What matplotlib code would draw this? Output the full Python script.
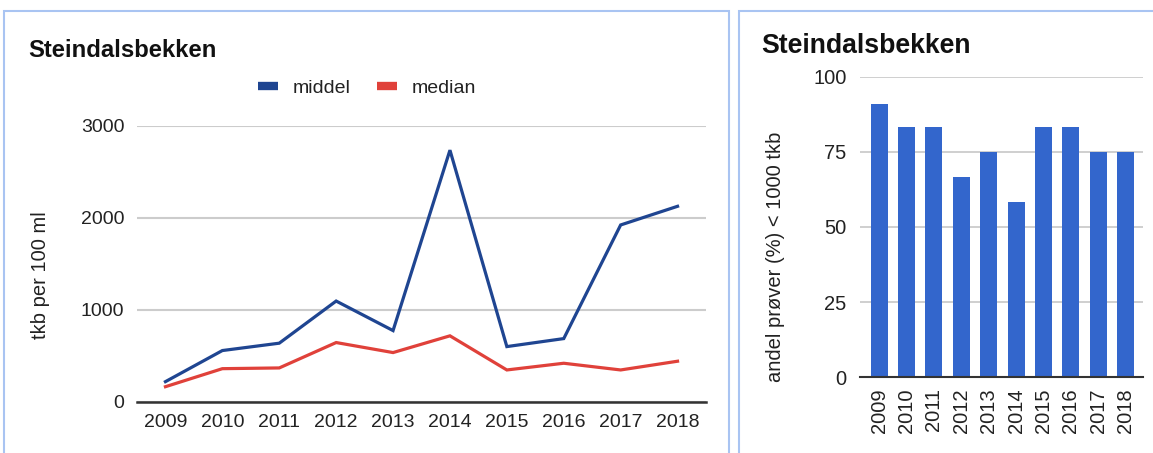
import matplotlib.pyplot as plt
from matplotlib.patches import Rectangle
from matplotlib.lines import Line2D

plt.rcParams['font.family'] = ['Liberation Sans', 'DejaVu Sans']

# data
years = [2009, 2010, 2011, 2012, 2013, 2014, 2015, 2016, 2017, 2018]
middel = [218, 556, 636, 1094, 773, 2734, 599, 686, 1921, 2124]
median = [163, 359, 367, 643, 534, 716, 345, 418, 345, 440]
andel = [90.9, 83.3, 83.3, 66.7, 75, 58.3, 83.3, 83.3, 75, 75]

W, H = 1153, 453
fig = plt.figure(figsize=(W / 100, H / 100), dpi=100)

BLUE_LINE = '#1f4591'
RED_LINE = '#e0413a'
BAR = '#3366cc'
GRID = '#cccccc'
BORDER = '#a9c4f2'
TXT = '#222222'

def fx(px):
    return px / W

def fy(py):
    return 1 - py / H

# panel borders
fig.patches.append(Rectangle((fx(4), fy(460)), fx(725), fy(11) - fy(460),
                             transform=fig.transFigure, fill=False,
                             edgecolor=BORDER, lw=1.5))
fig.patches.append(Rectangle((fx(739), fy(460)), fx(430), fy(11) - fy(460),
                             transform=fig.transFigure, fill=False,
                             edgecolor=BORDER, lw=1.5))

# ---------- left: line chart ----------
ax1 = fig.add_axes([fx(137), fy(401.7), fx(706) - fx(137), fy(125.7) - fy(401.7)])
ax1.plot(years, middel, color=BLUE_LINE, lw=2.3, solid_joinstyle='miter')
ax1.plot(years, median, color=RED_LINE, lw=2.3, solid_joinstyle='miter')
ax1.set_xlim(2008.5, 2018.5)
ax1.set_ylim(0, 3000)
ax1.set_yticks([0, 1000, 2000, 3000])
ax1.set_xticks(years)
ax1.set_xticklabels([str(y) for y in years])
ax1.grid(axis='y', color=GRID, lw=1.5)
ax1.set_axisbelow(True)
for s in ['top', 'right', 'left']:
    ax1.spines[s].set_visible(False)
ax1.spines['bottom'].set_color('#333333')
ax1.spines['bottom'].set_linewidth(1.8)
ax1.tick_params(length=0, labelsize=14, colors=TXT)
ax1.tick_params(axis='y', pad=9)
ax1.tick_params(axis='x', pad=9)

fig.text(fx(28), fy(57), 'Steindalsbekken', fontsize=17.2, fontweight='bold',
         color='#111111', va='baseline', ha='left')
fig.text(fx(40), fy(275), 'tkb per 100 ml', fontsize=14.5, rotation=90,
         ha='center', va='center', color=TXT)

handles = [Line2D([], [], color=BLUE_LINE, lw=6, solid_capstyle='butt'),
           Line2D([], [], color=RED_LINE, lw=6, solid_capstyle='butt')]
fig.legend(handles, ['middel', 'median'], loc='center',
           bbox_to_anchor=(fx(367), fy(88)), ncol=2, frameon=False,
           fontsize=14, handlelength=1.0, handletextpad=0.75,
           columnspacing=1.4, labelcolor=TXT)

# ---------- right: bar chart ----------
ax2 = fig.add_axes([fx(860.3), fy(377.3), fx(1142.7) - fx(860.3), fy(76.7) - fy(377.3)])
xpos = list(range(len(years)))
ax2.bar(xpos, andel, width=0.62, color=BAR)
ax2.set_xlim(-0.69, 9.62)
ax2.set_ylim(0, 100)
ax2.set_yticks([0, 25, 50, 75, 100])
ax2.set_xticks(xpos)
ax2.set_xticklabels([str(y) for y in years], rotation=90)
ax2.grid(axis='y', color=GRID, lw=1.3)
ax2.set_axisbelow(True)
for s in ['top', 'right', 'left']:
    ax2.spines[s].set_visible(False)
ax2.spines['bottom'].set_color('#333333')
ax2.spines['bottom'].set_linewidth(1.5)
ax2.tick_params(length=0, labelsize=14.5, colors=TXT)
ax2.tick_params(axis='y', pad=10)
ax2.tick_params(axis='x', pad=8)

fig.text(fx(761), fy(52.7), 'Steindalsbekken', fontsize=19.2, fontweight='bold',
         color='#111111', va='baseline', ha='left')
fig.text(fx(776), fy(257), 'andel prøver (%) < 1000 tkb', fontsize=14.5,
         rotation=90, ha='center', va='center', color=TXT)

fig.savefig('out.png', dpi=100)
